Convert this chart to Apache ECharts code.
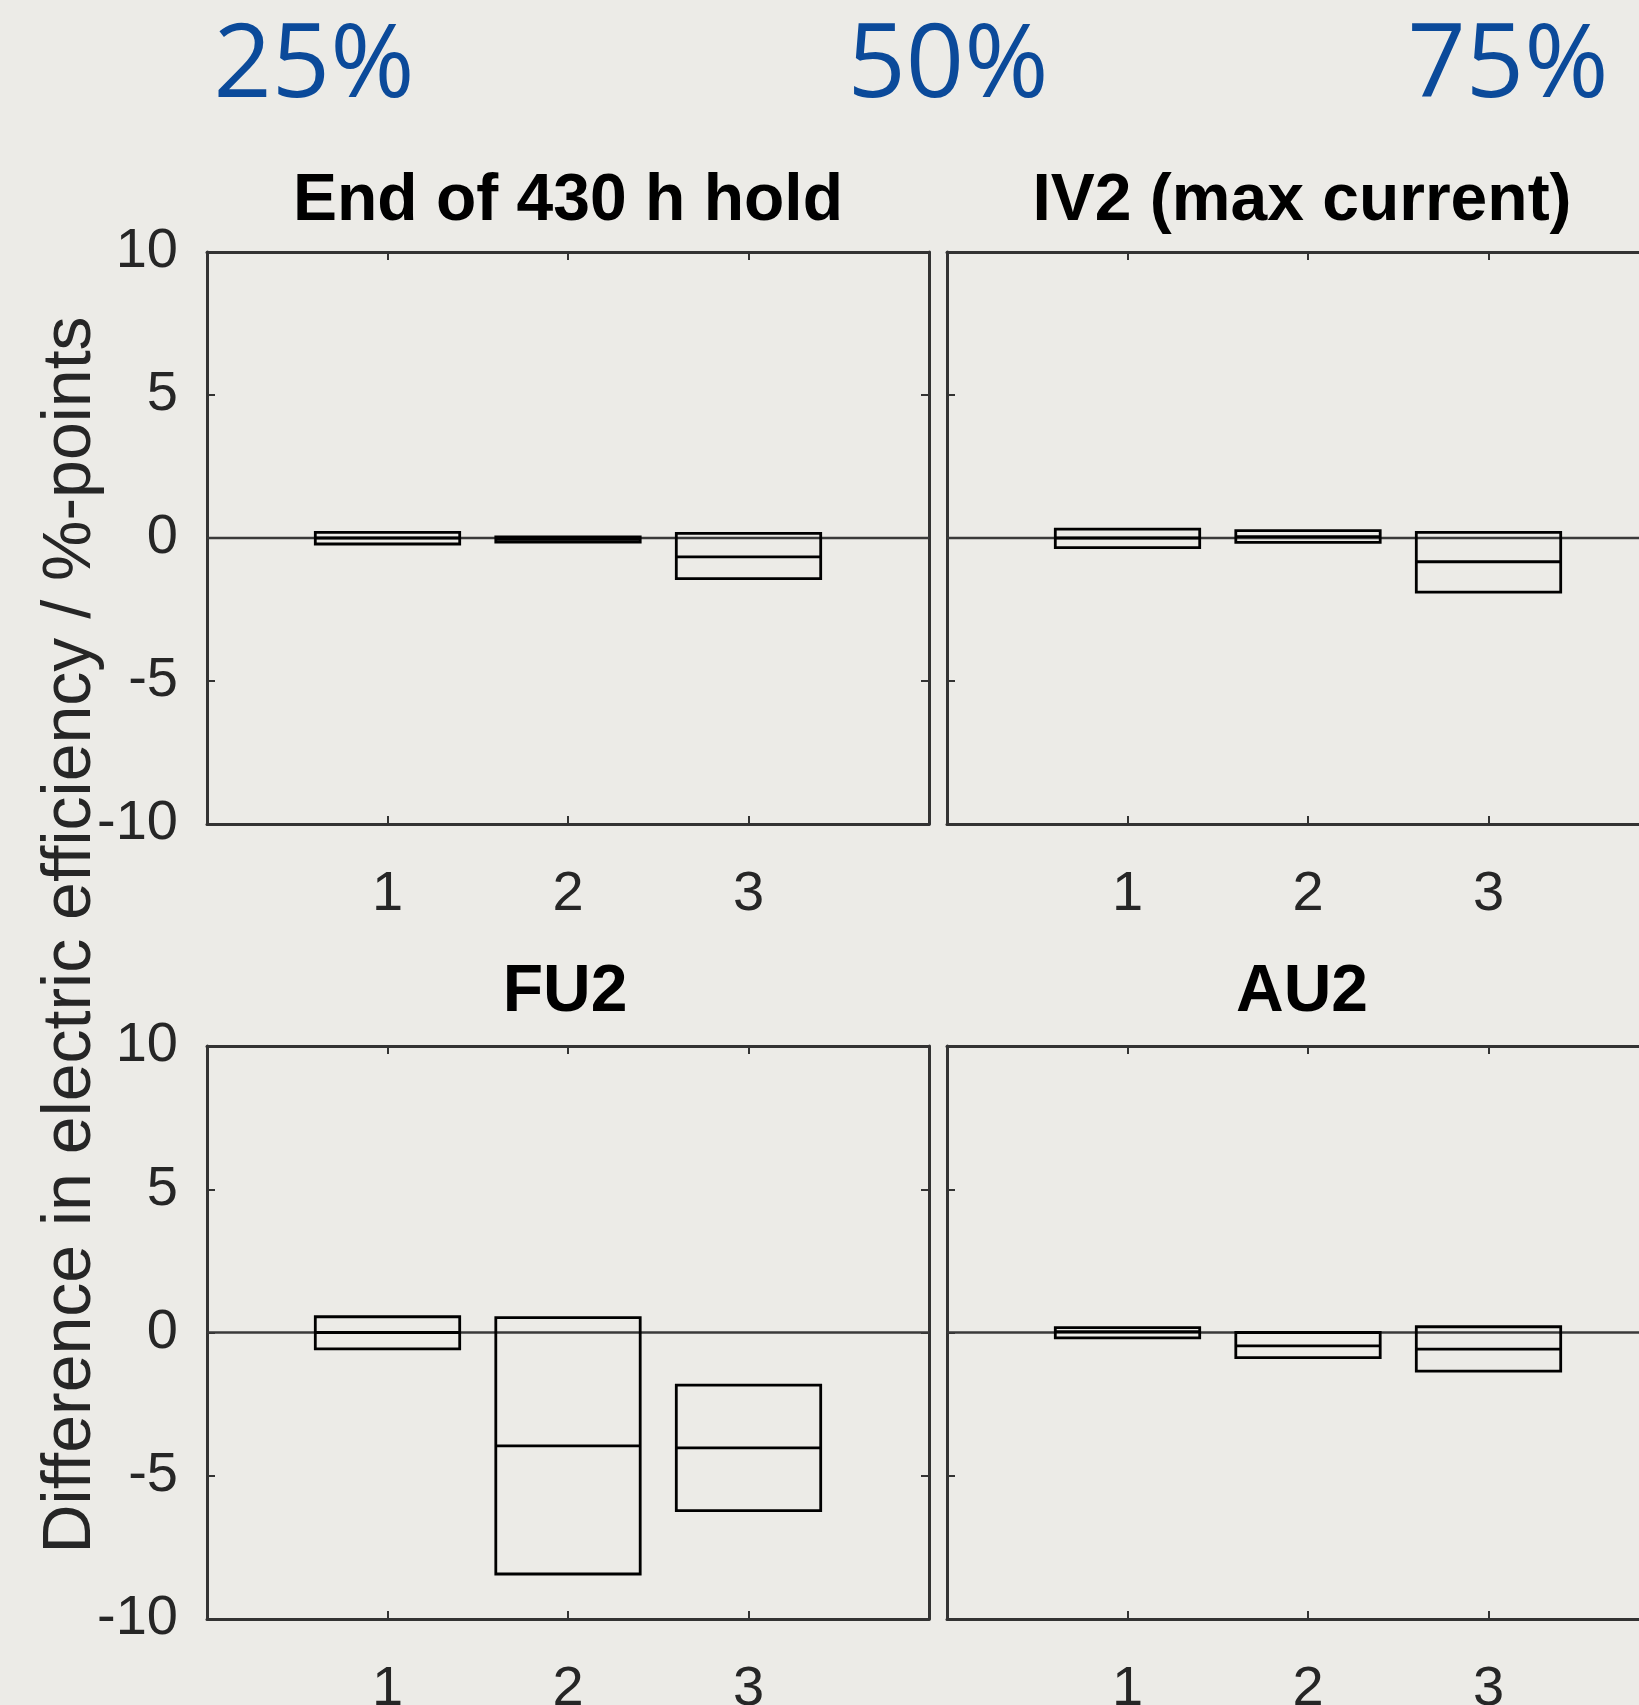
<!DOCTYPE html>
<html>
<head>
<meta charset="utf-8">
<script src="https://cdn.jsdelivr.net/npm/echarts@6/dist/echarts.min.js"></script>
<style>
html, body { margin: 0; padding: 0; background: #ecebe7; }
#chart { width: 1639px; height: 1705px; }
</style>
</head>
<body>
<div id="chart"></div>
<script>
// ---- data ----
const categories = [1, 2, 3];
const panelTitles = ['End of 430 h hold', 'IV2 (max current)', 'FU2', 'AU2'];
const percentLabels = ['25%', '50%', '75%'];
const yAxisTitle = 'Difference in electric efficiency / %-points';
// each box: [lower quartile, median, upper quartile]
const holdBoxes = [[-0.21, 0.0, 0.2], [-0.14, -0.05, 0.04], [-1.42, -0.66, 0.16]];
const iv2Boxes  = [[-0.34, 0.0, 0.31], [-0.15, 0.05, 0.26], [-1.89, -0.83, 0.2]];
const fu2Boxes  = [[-0.57, 0.0, 0.55], [-8.43, -3.96, 0.52], [-6.22, -4.03, -1.84]];
const au2Boxes  = [[-0.19, 0.03, 0.17], [-0.88, -0.47, 0.0], [-1.35, -0.58, 0.2]];
const zeroLine = [[0, 0], [4, 0]];
const xRange = [0, 4];
const yRange = [-10, 10];
const yStep = 5;

const panels = [holdBoxes, iv2Boxes, fu2Boxes, au2Boxes];

// ---- layout ----
const grids = [
  { left: 207, top: 252, width: 722, height: 572, outerBoundsMode: 'none', containLabel: false },
  { left: 947, top: 252, width: 722, height: 572, outerBoundsMode: 'none', containLabel: false },
  { left: 207, top: 1046, width: 722, height: 573, outerBoundsMode: 'none', containLabel: false },
  { left: 947, top: 1046, width: 722, height: 573, outerBoundsMode: 'none', containLabel: false }
];
const axisColor = '#333333';
const labelColor = '#262626';
const font = '"Liberation Sans", Arial, Helvetica, sans-serif';

const xAxes = [], yAxes = [], series = [];
grids.forEach((g, i) => {
  const common = {
    gridIndex: i, type: 'value', min: xRange[0], max: xRange[1], interval: 1,
    axisLine: { show: true, onZero: false, lineStyle: { color: axisColor, width: 3 } },
    axisTick: { show: true, inside: true, length: 8, lineStyle: { color: axisColor, width: 2 } },
    splitLine: { show: false }
  };
  xAxes.push(Object.assign({}, common, {
    position: 'bottom',
    axisLabel: {
      show: true, fontSize: 56, fontFamily: font, color: labelColor, margin: 43,
      formatter: v => (categories.indexOf(v) >= 0 ? String(v) : '')
    }
  }));
  xAxes.push(Object.assign({}, common, { position: 'top', axisLabel: { show: false } }));
  const ycommon = {
    gridIndex: i, type: 'value', min: yRange[0], max: yRange[1], interval: yStep,
    axisLine: { show: true, onZero: false, lineStyle: { color: axisColor, width: 3 } },
    axisTick: { show: true, inside: true, length: 8, lineStyle: { color: axisColor, width: 2 } },
    splitLine: { show: false }
  };
  yAxes.push(Object.assign({}, ycommon, {
    position: 'left',
    axisLabel: { show: i % 2 === 0, fontSize: 56, fontFamily: font, color: labelColor, margin: 29 }
  }));
  yAxes.push(Object.assign({}, ycommon, { position: 'right', axisLabel: { show: false } }));

  series.push({
    type: 'line', xAxisIndex: 2 * i, yAxisIndex: 2 * i, data: zeroLine,
    symbol: 'none', silent: true, z: 1,
    lineStyle: { color: '#3a3a3a', width: 2.5 }
  });
  series.push({
    type: 'custom', xAxisIndex: 2 * i, yAxisIndex: 2 * i, z: 3,
    data: panels[i].map((b, k) => [categories[k], b[0], b[1], b[2]]),
    renderItem: function (params, api) {
      const x = api.value(0), lo = api.value(1), med = api.value(2), hi = api.value(3);
      const a = api.coord([x - 0.4, hi]);
      const b = api.coord([x + 0.4, lo]);
      const m1 = api.coord([x - 0.4, med]);
      const m2 = api.coord([x + 0.4, med]);
      return {
        type: 'group',
        children: [
          { type: 'rect', shape: { x: a[0], y: a[1], width: b[0] - a[0], height: b[1] - a[1] },
            style: { fill: 'none', stroke: '#000', lineWidth: 2.8 } },
          { type: 'line', shape: { x1: m1[0], y1: m1[1], x2: m2[0], y2: m2[1] },
            style: { stroke: '#000', lineWidth: 2.8 } }
        ]
      };
    }
  });
});

const titlePos = [[568, 202], [1302, 202], [565, 993], [1302, 993]];
const percentPos = [[314, 68], [948, 68], [1508, 68]];
const graphics = [];
panelTitles.forEach((t, i) => {
  graphics.push({
    type: 'text', x: titlePos[i][0], y: titlePos[i][1], silent: true,
    style: { text: t, fontSize: 66, fontWeight: 'bold', fontFamily: font, fill: '#000',
             align: 'center', verticalAlign: 'middle' }
  });
});
percentLabels.forEach((t, i) => {
  graphics.push({
    type: 'text', x: percentPos[i][0], y: percentPos[i][1], silent: true,
    style: { text: t, fontSize: 102, fontFamily: '"Open Sans", "Noto Sans", sans-serif', fill: '#0b4a9a',
             align: 'center', verticalAlign: 'middle' }
  });
});
graphics.push({
  type: 'text', x: 71, y: 935, rotation: Math.PI / 2, silent: true,
  style: { text: yAxisTitle, fontSize: 68, fontFamily: font, fill: labelColor,
           align: 'center', verticalAlign: 'middle' }
});

const chart = echarts.init(document.getElementById('chart'), null, { renderer: 'canvas' });
chart.setOption({
  backgroundColor: '#ecebe7',
  animation: false,
  grid: grids,
  xAxis: xAxes,
  yAxis: yAxes,
  series: series,
  graphic: graphics
});
</script>
</body>
</html>
